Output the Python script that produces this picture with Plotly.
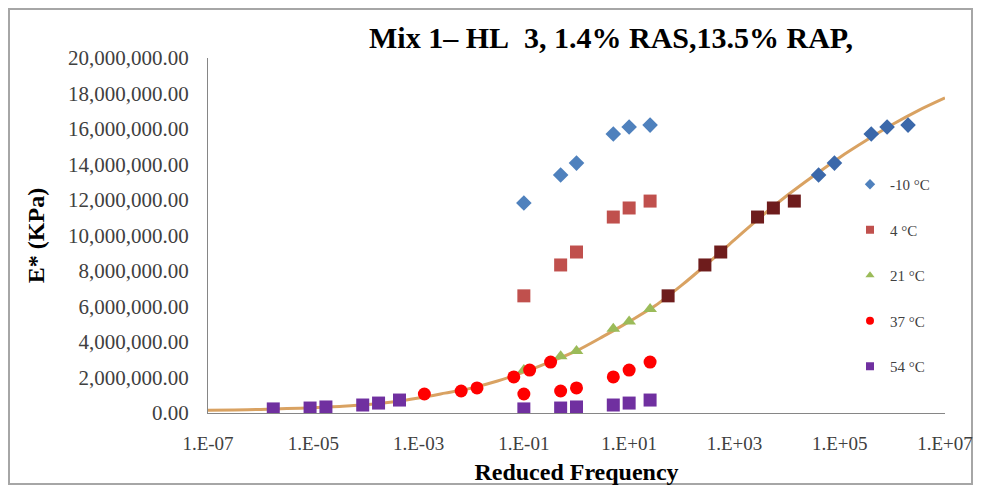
import plotly.graph_objects as go

# ---------------- data ----------------
test_freq = [0.1, 0.5, 1, 5, 10, 25]          # Hz, loading frequencies
temps = ["-10 °C", "4 °C", "21 °C", "37 °C", "54 °C"]
e_m10 = [11830000, 13410000, 14080000, 15720000, 16110000, 16220000]
e_4 = [6600000, 8340000, 9070000, 11040000, 11550000, 11940000]
e_21 = [2420000, 3200000, 3490000, 4750000, 5150000, 5860000]
e_37 = [1070000, 1240000, 1410000, 2030000, 2420000, 2870000]
e_54 = [230000, 280000, 340000, 450000, 560000, 730000]
log_shift = [4.90, 2.74, 0.0, -1.89, -4.76]   # log10 aT per temperature
# which measured points appear as shifted markers (the -10 °C 0.1 Hz one is not shown)
shifted_shown = [
    [False, True, True, True, True, True],
    [True, True, True, True, True, True],
    [False, False, False, False, False, False],
    [True, True, True, True, True, True],
    [True, True, True, True, True, True],
]

curve_freq = [1e-7, 3.16e-7, 1e-6, 3.16e-6, 1e-5, 3.16e-5, 1e-4, 3.16e-4, 1e-3, 3.16e-3,
              1e-2, 3.16e-2, 1e-1, 3.16e-1, 1, 3.16, 10, 31.6, 100, 316, 1e3, 3.16e3,
              1e4, 3.16e4, 1e5, 3.16e5, 1e6, 3.16e6, 1e7]
curve_e = [150000, 170000, 200000, 250000, 300000, 370000, 460000, 620000, 850000, 1120000,
           1400000, 1800000, 2300000, 2880000, 3500000, 4300000, 5150000, 6050000, 7200000,
           8450000, 9750000, 11050000, 12250000, 13350000, 14400000, 15350000, 16250000,
           17050000, 17750000]

x_tickvals = [1e-7, 1e-5, 1e-3, 1e-1, 1e1, 1e3, 1e5, 1e7]
x_ticktext = ["1.E-07", "1.E-05", "1.E-03", "1.E-01", "1.E+01", "1.E+03", "1.E+05", "1.E+07"]
y_tickvals = [0, 2e6, 4e6, 6e6, 8e6, 10e6, 12e6, 14e6, 16e6, 18e6, 20e6]

# ---------------- styles ----------------
raw_colors = ["#4F81BD", "#C0504D", "#9BBB59", "#FF0000", "#7030A0"]
shift_colors = ["#3B68AA", "#6E1C1C", "#9BBB59", "#FF0000", "#7030A0"]
symbols = ["diamond", "square", "triangle-up", "circle", "square"]
sizes = [12, 13, 12, 13, 13]
series = [e_m10, e_4, e_21, e_37, e_54]
FONT = "Liberation Serif, Times New Roman, serif"

# the page body has an 8 px margin; figure is sized to fit the 981x493 window
W, H = 965, 477
L, R, T, B = 200, 28, 50, 72
PW, PH = W - L - R, H - T - B

fig = go.Figure()

# master curve
fig.add_trace(go.Scatter(
    x=curve_freq, y=curve_e, mode="lines", showlegend=False,
    line=dict(color="#D9A262", width=3, shape="spline", smoothing=0.8),
))

# raw measured data
for i, vals in enumerate(series):
    fig.add_trace(go.Scatter(
        x=test_freq, y=vals, mode="markers", showlegend=False,
        marker=dict(symbol=symbols[i], size=sizes[i], color=raw_colors[i],
                    line=dict(width=0)),
    ))

# shifted data (reduced frequency)
for i, vals in enumerate(series):
    red_f = [f * 10 ** log_shift[i] for f, s in zip(test_freq, shifted_shown[i]) if s]
    ys = [v for v, s in zip(vals, shifted_shown[i]) if s]
    if not ys:
        continue
    fig.add_trace(go.Scatter(
        x=red_f, y=ys, mode="markers", showlegend=False,
        marker=dict(symbol=symbols[i], size=sizes[i], color=shift_colors[i],
                    line=dict(width=0)),
    ))

# legend entries
for i, name in enumerate(temps):
    fig.add_trace(go.Scatter(
        x=[None], y=[None], mode="markers", name=name, legendgroup=f"g{i}",
        marker=dict(symbol=symbols[i], size=8, color=raw_colors[i]),
    ))

fig.update_layout(
    width=W, height=H,
    margin=dict(l=L, r=R, t=T, b=B, autoexpand=False),
    paper_bgcolor="white", plot_bgcolor="white",
    font=dict(family=FONT, color="#404040"),
    title=dict(text="Mix 1– HL\u00a0\u00a03, 1.4% RAS,13.5% RAP,",
               x=603 / W, xanchor="center", xref="container",
               y=1 - 29 / H, yanchor="middle", yref="container",
               font=dict(family=FONT, size=30, color="#000000", weight="bold")),
    showlegend=True,
    legend=dict(x=(842 - L) / PW, y=(T + PH - 160) / PH, xanchor="left", yanchor="top",
                bgcolor="rgba(0,0,0,0)", font=dict(family=FONT, size=15, color="#404040"),
                tracegroupgap=23, itemwidth=30),
    shapes=[dict(type="rect", xref="paper", yref="paper",
                 x0=(1 - L) / PW, x1=(W - 1 - L) / PW,
                 y0=(T + PH - (H - 1)) / PH, y1=(T + PH - 1) / PH,
                 line=dict(color="#A6A6A6", width=2), fillcolor="rgba(0,0,0,0)", layer="below")],
)

fig.update_xaxes(
    type="log", range=[-7, 7], tickvals=x_tickvals, ticktext=x_ticktext,
    showgrid=False, zeroline=False, showline=True, linecolor="#868686", linewidth=1,
    ticks="", ticklabelstandoff=13, automargin=False, ticklabeloverflow="allow",
    tickfont=dict(family=FONT, size=19, color="#404040"),
    title=dict(text="Reduced Frequency", standoff=21,
               font=dict(family=FONT, size=24, color="#000000", weight="bold")),
)
fig.update_yaxes(
    range=[0, 20000000], tickvals=y_tickvals, tickformat=",.2f",
    showgrid=False, zeroline=False, showline=True, linecolor="#868686", linewidth=1,
    ticks="", ticklabelstandoff=14, automargin=False,
    tickfont=dict(family=FONT, size=21, color="#404040"),
    title=dict(text="E* (KPa)", standoff=16,
               font=dict(family=FONT, size=24, color="#000000", weight="bold")),
)

fig.write_html("out.html")
